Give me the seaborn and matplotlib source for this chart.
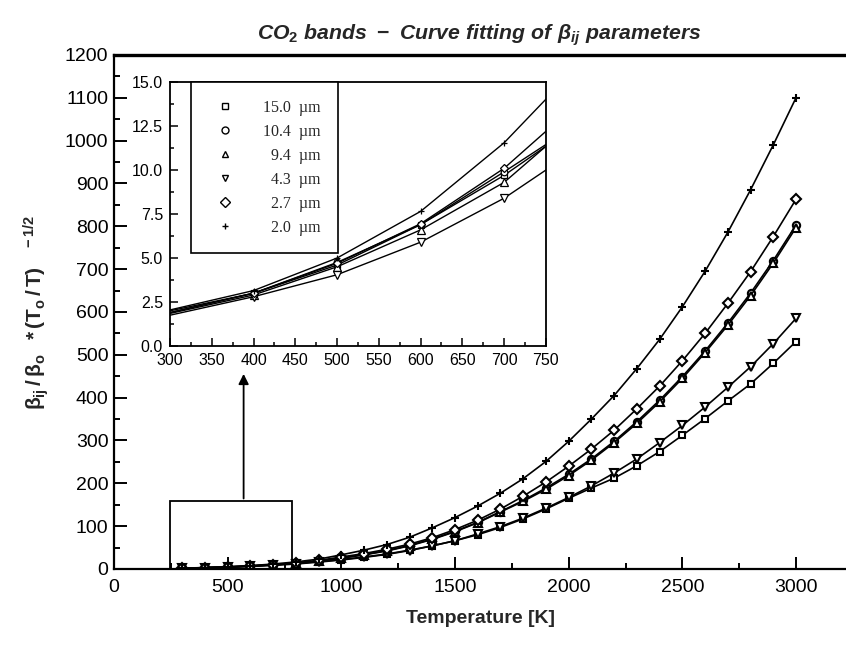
#!/usr/bin/env python3
"""CO2 bands - curve fitting of beta_ij parameters, with low-temperature inset."""
import matplotlib

matplotlib.use("Agg")
import matplotlib.pyplot as plt
import pandas as pd
import seaborn as sns
from matplotlib.lines import Line2D
from matplotlib.patches import Rectangle
from matplotlib.ticker import FormatStrFormatter, MultipleLocator

# Temperatures [K] at which each band was evaluated
TEMPS = [300, 400, 500, 600, 700, 800, 900, 1000, 1100, 1200, 1300, 1400, 1500, 1600,
         1700, 1800, 1900, 2000, 2100, 2200, 2300, 2400, 2500, 2600, 2700, 2800, 2900, 3000]

BANDS = ["15.0 µm", "10.4 µm", "9.4 µm", "4.3 µm", "2.7 µm", "2.0 µm"]
LEGEND_LABELS = ["15.0  µm", "10.4  µm", "\u20079.4  µm", "\u20074.3  µm", "\u20072.7  µm", "\u20072.0  µm"]

BETA_15_0 = [2.0, 3.0, 4.6, 6.9, 9.7, 13.0, 17.0, 22.0, 28.0, 35.0, 44.0, 54.0, 66.0, 80.0,
             97.0, 117.0, 140.0, 165.0, 189.0, 212.0, 241.0, 274.0, 312.0, 351.0, 392.0, 432.0, 480.0, 531.0]
BETA_10_4 = [1.9, 3.0, 4.75, 6.9, 9.9, 13.0, 18.4, 25.5, 33.5, 43.0, 55.0, 70.0, 88.0, 109.0,
             134.0, 160.0, 189.0, 221.0, 257.0, 298.0, 344.0, 394.0, 449.0, 509.0, 574.0, 644.0, 720.0, 803.0]
BETA_9_4 = [1.85, 2.9, 4.5, 6.6, 9.3, 13.4, 18.0, 25.0, 33.0, 42.0, 54.0, 69.0, 87.0, 108.0,
            133.0, 158.0, 186.0, 218.0, 254.0, 295.0, 340.0, 390.0, 445.0, 505.0, 569.0, 638.0, 714.0, 797.0]
BETA_4_3 = [1.75, 2.8, 4.05, 5.9, 8.4, 11.6, 16.0, 21.0, 27.0, 34.0, 43.0, 54.0, 66.0, 82.0,
            99.0, 119.0, 142.0, 167.0, 194.0, 224.0, 257.0, 295.0, 335.0, 378.0, 424.0, 472.0, 526.0, 585.0]
BETA_2_7 = [1.9, 3.0, 4.7, 6.95, 10.1, 14.3, 20.0, 28.0, 36.0, 46.0, 58.0, 73.0, 92.0, 114.0,
            140.0, 170.0, 203.0, 240.0, 280.0, 324.0, 374.0, 427.0, 486.0, 550.0, 620.0, 694.0, 776.0, 863.0]
BETA_2_0 = [2.05, 3.15, 5.0, 7.65, 11.55, 16.5, 23.0, 33.0, 44.0, 57.0, 74.0, 96.0, 120.0, 147.0,
            177.0, 211.0, 251.0, 298.0, 350.0, 405.0, 468.0, 536.0, 612.0, 695.0, 786.0, 885.0, 990.0, 1100.0]

MARKERS = {"15.0 µm": "s", "10.4 µm": "o", "9.4 µm": "^", "4.3 µm": "v", "2.7 µm": "D", "2.0 µm": "+"}
MARKER_SCALE = {"15.0 µm": 0.95, "10.4 µm": 1.05, "9.4 µm": 1.15, "4.3 µm": 1.15, "2.7 µm": 0.95, "2.0 µm": 1.1}


def build_frame() -> pd.DataFrame:
    wide = pd.DataFrame(
        {
            "T": TEMPS,
            "15.0 µm": BETA_15_0,
            "10.4 µm": BETA_10_4,
            "9.4 µm": BETA_9_4,
            "4.3 µm": BETA_4_3,
            "2.7 µm": BETA_2_7,
            "2.0 µm": BETA_2_0,
        }
    )
    return wide.melt(id_vars="T", var_name="band", value_name="beta")


def style_axis(ax, lw=1.4):
    for side in ("left", "bottom", "top", "right"):
        ax.spines[side].set_linewidth(lw)
        ax.spines[side].set_color("black")


def draw_bands(ax, df, lw, ms, mew, markevery=None):
    for band in BANDS:
        sub = df[df["band"] == band]
        kws = {}
        if markevery is not None:
            kws["markevery"] = markevery
        sns.lineplot(
            data=sub, x="T", y="beta", color="black", errorbar=None, legend=False,
            linewidth=lw, marker=MARKERS[band], markersize=ms * MARKER_SCALE[band],
            markerfacecolor="white", markeredgecolor="black", markeredgewidth=mew, ax=ax, **kws,
        )


def main() -> None:
    sns.set_theme(style="ticks")
    plt.rcParams.update(
        {
            "font.family": ["Liberation Sans", "DejaVu Sans"],
            "mathtext.fontset": "custom",
            "mathtext.rm": "Liberation Sans:bold",
            "mathtext.it": "Liberation Sans:bold:italic",
            "mathtext.bf": "Liberation Sans:bold",
        }
    )
    df = build_frame()

    fig = plt.figure(figsize=(8.46, 6.47), dpi=100)
    ax = fig.add_axes([0.1348, 0.1206, 0.8652, 0.7944])

    draw_bands(ax, df, lw=1.2, ms=5.0, mew=1.5)
    ax.set_xlim(0, 3220)
    ax.set_ylim(0, 1200)
    ax.xaxis.set_major_locator(MultipleLocator(500))
    ax.xaxis.set_minor_locator(MultipleLocator(250))
    ax.yaxis.set_major_locator(MultipleLocator(100))
    ax.yaxis.set_minor_locator(MultipleLocator(50))
    ax.tick_params(which="both", direction="in", top=False, right=False, width=1.4,
                   labelsize=14, colors="black")
    ax.tick_params(axis="y", which="major", length=9, pad=4)
    ax.tick_params(axis="x", which="major", length=9, pad=7)
    ax.tick_params(which="minor", length=4.5)
    style_axis(ax, 1.6)
    ax.spines["top"].set_linewidth(2.4)
    ax.spines["right"].set_visible(False)
    ax.set_xlabel("Temperature [K]", fontsize=14, fontweight="bold", labelpad=10)
    ax.set_ylabel(r"$\mathrm{\beta_{ij}\,/\,\beta_o\;\;*(T_o\,/\,T)^{\quad\;-1/2}}$",
                  fontsize=15, labelpad=10)
    fig.text(0.566, 0.945, r"$\mathit{CO_2\ bands\ -\ Curve\ fitting\ of\ \beta_{ij}\ parameters}$",
             ha="center", va="center", fontsize=15.3)

    # zoom box and arrow pointing to the inset
    ax.add_patch(Rectangle((245, 0), 540, 158, fill=False, lw=1.3, ec="black", zorder=1))
    ax.annotate("", xy=(570, 462), xytext=(570, 158),
                arrowprops=dict(arrowstyle="-|>", color="black", lw=1.3, mutation_scale=15))

    # inset: low temperature region
    ins = fig.add_axes([0.2009, 0.4652, 0.4444, 0.408])
    draw_bands(ins, df, lw=1.0, ms=4.5, mew=0.9, markevery=[1, 2, 3, 4])
    ins.set_xlim(300, 750)
    ins.set_ylim(0, 15)
    ins.xaxis.set_major_locator(MultipleLocator(50))
    ins.xaxis.set_minor_locator(MultipleLocator(25))
    ins.yaxis.set_major_locator(MultipleLocator(2.5))
    ins.yaxis.set_minor_locator(MultipleLocator(1.25))
    ins.yaxis.set_major_formatter(FormatStrFormatter("%.1f"))
    ins.tick_params(which="both", direction="in", top=False, right=False, width=1.1,
                    labelsize=11.5, colors="black")
    ins.tick_params(which="major", length=6)
    ins.tick_params(axis="x", which="major", pad=5)
    ins.tick_params(axis="y", which="major", pad=5)
    ins.tick_params(which="minor", length=3)
    ins.set_xlabel("")
    ins.set_ylabel("")
    style_axis(ins, 1.3)

    handles = [
        Line2D([], [], marker=MARKERS[b], linestyle="none", markersize=5, markerfacecolor="white",
               markeredgecolor="black", markeredgewidth=1.0)
        for b in BANDS
    ]
    leg = ins.legend(
        handles, LEGEND_LABELS, loc="upper left", bbox_to_anchor=(0.056, 1.0),
        prop={"family": ["Liberation Serif", "DejaVu Serif"], "size": 11.5},
        frameon=True, fancybox=False, edgecolor="black", framealpha=1.0,
        borderpad=1.1, labelspacing=0.5, handlelength=2.0, handletextpad=1.4, borderaxespad=0.0,
    )
    leg.get_frame().set_linewidth(1.2)

    fig.savefig("out.png", dpi=100)
    plt.close(fig)


if __name__ == "__main__":
    main()
